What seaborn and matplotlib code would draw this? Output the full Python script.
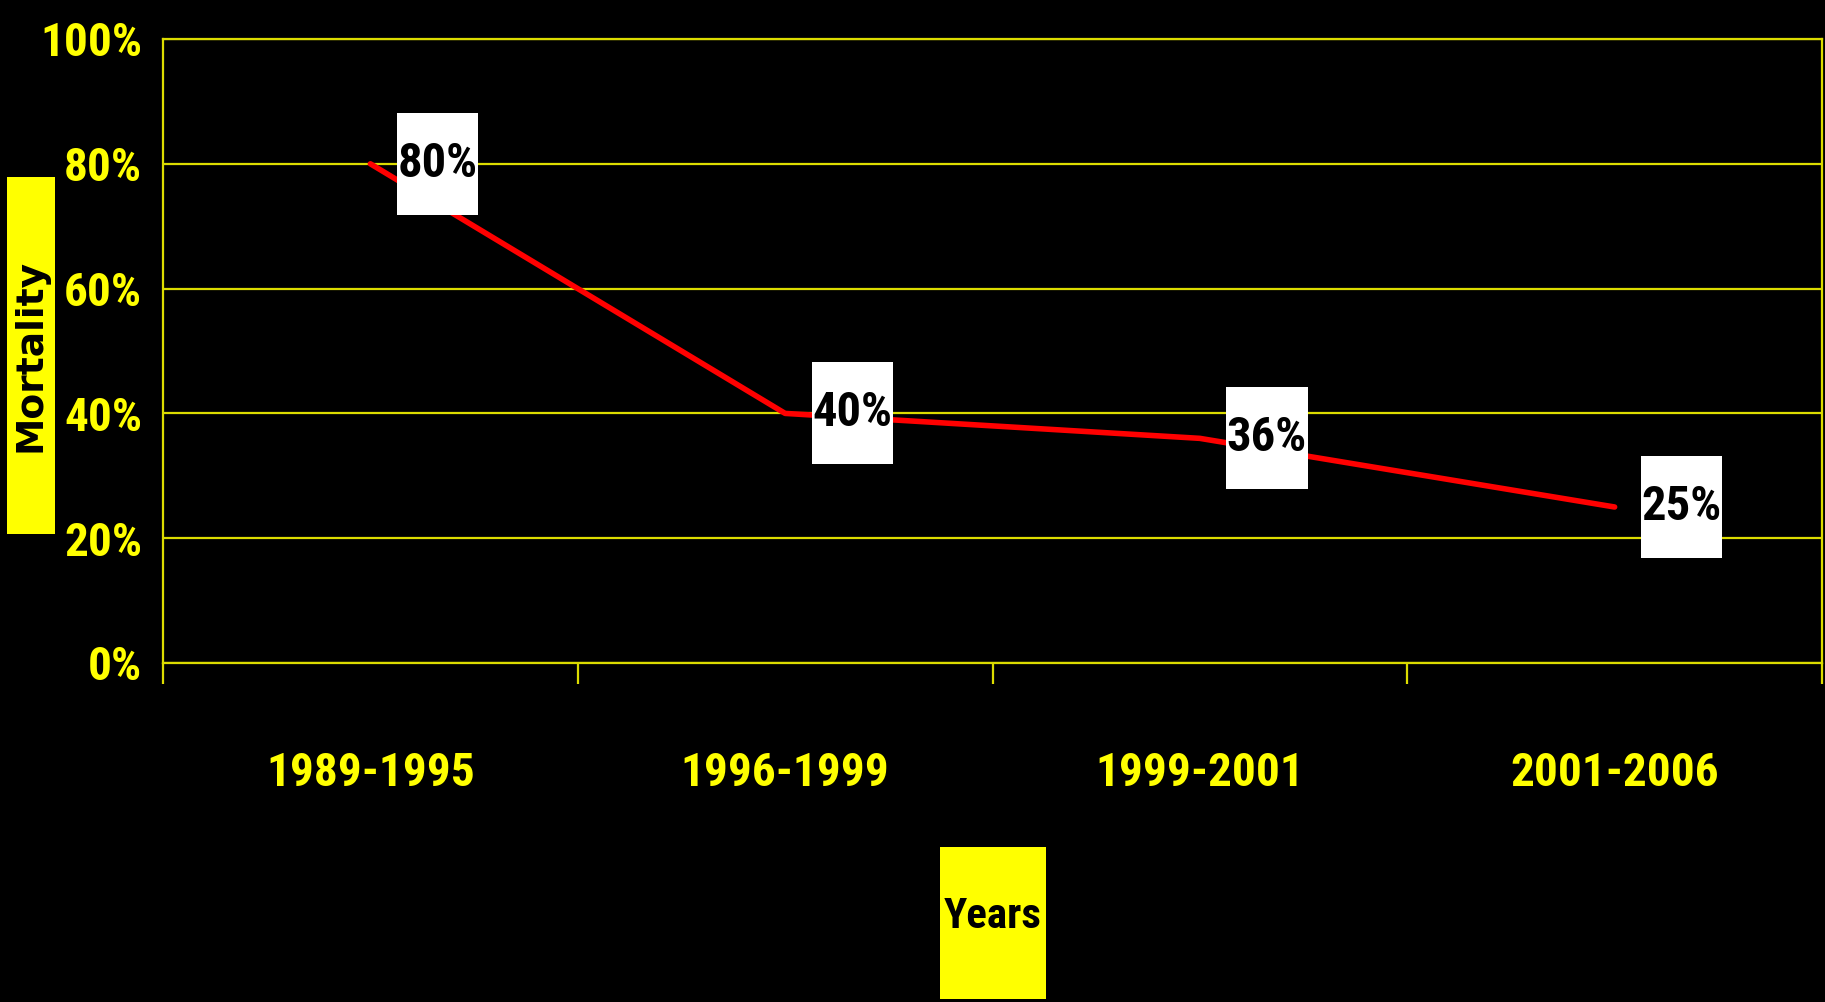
import matplotlib
matplotlib.use("Agg")
import matplotlib.pyplot as plt
import matplotlib.font_manager as fm
from matplotlib.path import Path
import seaborn as sns
import pandas as pd

# ---- data ----
periods = ["1989-1995", "1996-1999", "1999-2001", "2001-2006"]
mortality = [80, 40, 36, 25]
point_labels = ["80%", "40%", "36%", "25%"]
y_ticks = [0, 20, 40, 60, 80, 100]
y_tick_labels = ["0%", "20%", "40%", "60%", "80%", "100%"]
boundaries = [-0.5, 0.5, 1.5, 2.5, 3.5]

# ---- fonts ----
names = {f.name for f in fm.fontManager.ttflist}
NARROW = "Liberation Sans"
for cand in ["Liberation Sans Narrow", "Arial Narrow", "Roboto Condensed", "Open Sans Condensed"]:
    if cand in names:
        NARROW = cand
        break

sns.set_theme(style="white")
plt.rcParams["font.family"] = [NARROW, "DejaVu Sans"]

YELLOW = "#FFFF00"
GRID = "#DCDC00"
RED = "#FF0000"


def fixed_box(w=None, h=None, padx=0.0, pady=0.0, dx=0.0, dy=0.0):
    """Rectangular box style with independent width/height around the text."""
    def box(x0, y0, width, height, mutation_size):
        cx = x0 + width / 2 + dx
        cy = y0 + height / 2 + dy
        bw = w if w is not None else width + 2 * padx
        bh = h if h is not None else height + 2 * pady
        x1, x2 = cx - bw / 2, cx + bw / 2
        y1, y2 = cy - bh / 2, cy + bh / 2
        return Path([(x1, y1), (x2, y1), (x2, y2), (x1, y2), (x1, y1)], closed=True)
    return box


W, H = 1825, 1002
fig = plt.figure(figsize=(W / 100, H / 100), dpi=100, facecolor="black")
ax = fig.add_axes([163 / W, 1 - 663 / H, (1822 - 163) / W, (663 - 39) / H])
ax.set_facecolor("black")

df = pd.DataFrame({"Years": periods, "Mortality": mortality})
sns.lineplot(data=df, x="Years", y="Mortality", ax=ax, color=RED, lw=4.0,
             sort=False, errorbar=None)

ax.set_xlim(-0.5, 3.5)
ax.set_ylim(0, 100)

# grid & spines
ax.set_yticks(y_ticks)
ax.set_yticklabels(y_tick_labels)
ax.grid(axis="y", color=GRID, lw=1.6)
ax.grid(axis="x", visible=False)
ax.set_axisbelow(True)
for s in ["left", "right", "bottom", "top"]:
    ax.spines[s].set_visible(True)
    ax.spines[s].set_color(GRID)
    ax.spines[s].set_linewidth(1.6)

ax.tick_params(axis="y", which="major", direction="out", length=6, width=1.6,
               color=GRID, pad=9, labelcolor=YELLOW, labelsize=34)
ax.set_xticks(range(len(periods)))
ax.set_xticklabels(periods)
ax.set_xticks(boundaries, minor=True)
ax.tick_params(axis="x", which="major", length=0, pad=63,
               labelcolor=YELLOW, labelsize=34)
ax.tick_params(axis="x", which="minor", direction="out", length=15, width=1.6,
               color=GRID, bottom=True)
for lab in ax.get_yticklabels() + ax.get_xticklabels():
    lab.set_fontweight("bold")
    lab.set_family([NARROW, "DejaVu Sans"])

# data labels
for i, (v, lbl) in enumerate(zip(mortality, point_labels)):
    ax.annotate(lbl, xy=(i, v), xytext=(27, 0), textcoords="offset pixels",
                ha="left", va="center", fontsize=35, fontweight="bold",
                family=[NARROW, "DejaVu Sans"], color="black",
                bbox=dict(boxstyle=fixed_box(h=102, padx=0.5), fc="white", ec="none"))

# axis labels in yellow boxes
ax.set_xlabel("Years", fontsize=31, fontweight="bold", color="black",
              family=[NARROW, "DejaVu Sans"],
              bbox=dict(boxstyle=fixed_box(w=106, h=152, dy=-6), fc=YELLOW, ec="none"))
ax.xaxis.label.set_va("center")
ax.xaxis.set_label_coords(0.5, (663 - 917) / 624)

ax.set_ylabel("Mortality", fontsize=27, fontweight="bold", color="black",
              family=["DejaVu Sans"],
              bbox=dict(boxstyle=fixed_box(w=357, h=48), fc=YELLOW, ec="none"))
ax.yaxis.label.set_va("center")
ax.yaxis.label.set_ha("center")
ax.yaxis.set_label_coords((31 - 163) / 1659, (663 - 355) / 624)

fig.savefig("out.png", dpi=100, facecolor="black")
